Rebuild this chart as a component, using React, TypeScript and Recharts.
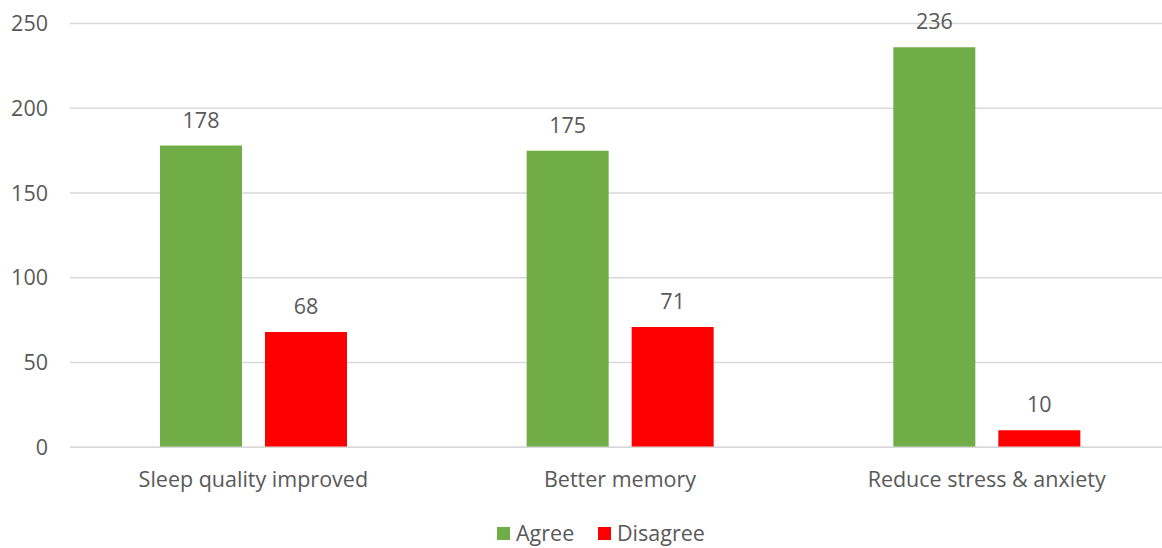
import React from "react";
import { BarChart, Bar, XAxis, YAxis, CartesianGrid, Legend, LabelList } from "recharts";

// Survey responses per statement
const categories = ["Sleep quality improved", "Better memory", "Reduce stress & anxiety"];
const agreeValues = [178, 175, 236];
const disagreeValues = [68, 71, 10];
const yTicks = [0, 50, 100, 150, 200, 250];

const GREEN = "#70AD47";
const RED = "#FF0000";
const TEXT = "#595959";
const FONT = "'Open Sans', 'DejaVu Sans', sans-serif";
const FONT_SIZE = 21.5;

const data = categories.map((name, i) => ({
  name,
  Agree: agreeValues[i],
  Disagree: disagreeValues[i],
}));

const LegendContent = (props: any) => {
  const items = props.payload || [];
  return (
    <div
      style={{
        display: "flex",
        alignItems: "center",
        paddingLeft: 497,
        paddingTop: 5,
        height: 20,
        lineHeight: "20px",
        fontFamily: FONT,
        fontSize: FONT_SIZE,
        color: TEXT,
      }}
    >
      {items.map((it: any, i: number) => (
        <div key={it.value} style={{ display: "flex", alignItems: "center", width: i === 0 ? 101 : undefined }}>
          <span style={{ display: "inline-block", width: 13, height: 13, background: it.color, marginRight: 6 }} />
          <span>{it.value}</span>
        </div>
      ))}
    </div>
  );
};

export default function App() {
  return (
    <div style={{ position: "absolute", left: 0, top: 0, width: 1162, height: 548, overflow: "hidden", background: "#fff" }}>
      <BarChart
        width={1180}
        height={548}
        data={data}
        margin={{ top: 23.5, right: 10, bottom: 0, left: 0 }}
        barGap={23}
      >
        <CartesianGrid vertical={false} stroke="#D9D9D9" strokeWidth={1.5} />
        <XAxis
          dataKey="name"
          axisLine={{ stroke: "#D9D9D9", strokeWidth: 1.5 }}
          tickLine={false}
          tickSize={0}
          tickMargin={24}
          height={70.7}
          tick={{ fill: TEXT, fontSize: FONT_SIZE, fontFamily: FONT }}
          interval={0}
        />
        <YAxis
          domain={[0, 250]}
          ticks={yTicks}
          width={70}
          axisLine={false}
          tickLine={false}
          tickSize={0}
          tickMargin={22}
          tick={{ fill: TEXT, fontSize: FONT_SIZE, fontFamily: FONT }}
        />
        <Legend
          verticalAlign="bottom"
          height={30}
          content={<LegendContent />}
          wrapperStyle={{ left: 0, width: 1180 }}
        />
        <Bar dataKey="Agree" fill={GREEN} barSize={82} isAnimationActive={false}>
          <LabelList dataKey="Agree" position="top" offset={18} fill={TEXT} fontSize={FONT_SIZE} fontFamily={FONT} />
        </Bar>
        <Bar dataKey="Disagree" fill={RED} barSize={82} isAnimationActive={false}>
          <LabelList dataKey="Disagree" position="top" offset={18} fill={TEXT} fontSize={FONT_SIZE} fontFamily={FONT} />
        </Bar>
      </BarChart>
    </div>
  );
}
